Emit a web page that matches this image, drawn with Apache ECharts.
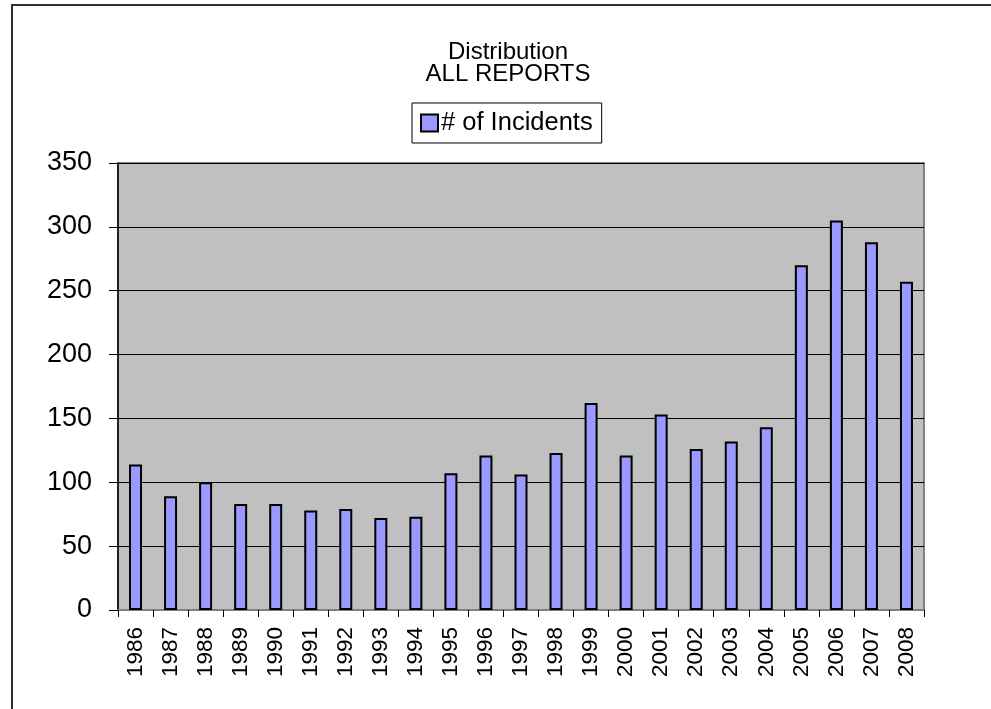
<!DOCTYPE html>
<html>
<head>
<meta charset="utf-8">
<script src="https://cdn.jsdelivr.net/npm/echarts@6/dist/echarts.min.js"></script>
<style>
html,body{margin:0;padding:0;background:#fff;}
#c{width:991px;height:709px;}
</style>
</head>
<body>
<div id="c"></div>
<script>
var years = ['1986','1987','1988','1989','1990','1991','1992','1993','1994','1995','1996','1997','1998','1999','2000','2001','2002','2003','2004','2005','2006','2007','2008'];
var incidents = [114,89,100,83,83,78,79,72,73,107,121,106,123,162,121,153,126,132,143,270,305,288,257];
var yTicks = [0,50,100,150,200,250,300,350];
var seriesName = '# of Incidents';
var titleText = 'Distribution\nALL REPORTS';

var FONT = '"Liberation Sans", Arial, sans-serif';
var chart = echarts.init(document.getElementById('c'), null, {renderer:'canvas'});
chart.setOption({
  animation: false,
  backgroundColor: '#ffffff',
  graphic: [{
    type: 'rect', silent: true, z: -10,
    shape: {x: 12, y: 5, width: 1100, height: 900},
    style: {fill: 'none', stroke: '#303030', lineWidth: 2}
  }],
  title: {
    text: titleText,
    left: 503, top: 36,
    textAlign: 'center',
    textStyle: {fontFamily: FONT, fontSize: 24, fontWeight: 'normal', color: '#000', lineHeight: 22}
  },
  legend: {
    data: [seriesName],
    left: 412, top: 103,
    orient: 'horizontal',
    backgroundColor: '#fff',
    borderColor: '#000', borderWidth: 1,
    padding: [7, 9, 7, 8],
    icon: 'rect',
    itemWidth: 17, itemHeight: 17, itemGap: 4,
    selectedMode: false,
    textStyle: {fontFamily: FONT, fontSize: 25.5, color: '#000', padding: [0,0,0,-2]},
    itemStyle: {color: '#9999FF', borderColor: '#000', borderWidth: 2}
  },
  grid: {
    left: 118, right: 67, top: 163, bottom: 99,
    show: true, backgroundColor: '#C0C0C0', borderColor: '#808080', borderWidth: 2,
    containLabel: false
  },
  xAxis: {
    type: 'category',
    data: years,
    boundaryGap: true,
    axisLine: {show: true, lineStyle: {color: '#808080', width: 2}},
    axisTick: {show: true, alignWithLabel: false, length: 7, lineStyle: {color: '#000', width: 1}},
    axisLabel: {rotate: 90, margin: 17, fontFamily: FONT, fontSize: 22.5, color: '#000', interval: 0},
    splitLine: {show: false}
  },
  yAxis: {
    type: 'value',
    min: 0, max: 350, interval: 50,
    axisLine: {show: true, lineStyle: {color: '#000', width: 1.5}},
    axisTick: {show: true, length: 9, lineStyle: {color: '#000', width: 1}},
    axisLabel: {margin: 26, fontFamily: FONT, fontSize: 27, color: '#000',
      formatter: function(v){ return yTicks.indexOf(v) >= 0 ? String(v) : ''; }},
    splitLine: {show: true, lineStyle: {color: '#000', width: 1}}
  },
  series: [{
    name: seriesName,
    type: 'bar',
    data: incidents,
    barWidth: 13,
    itemStyle: {color: '#9999FF', borderColor: '#000', borderWidth: 2}
  }]
});
</script>
</body>
</html>
